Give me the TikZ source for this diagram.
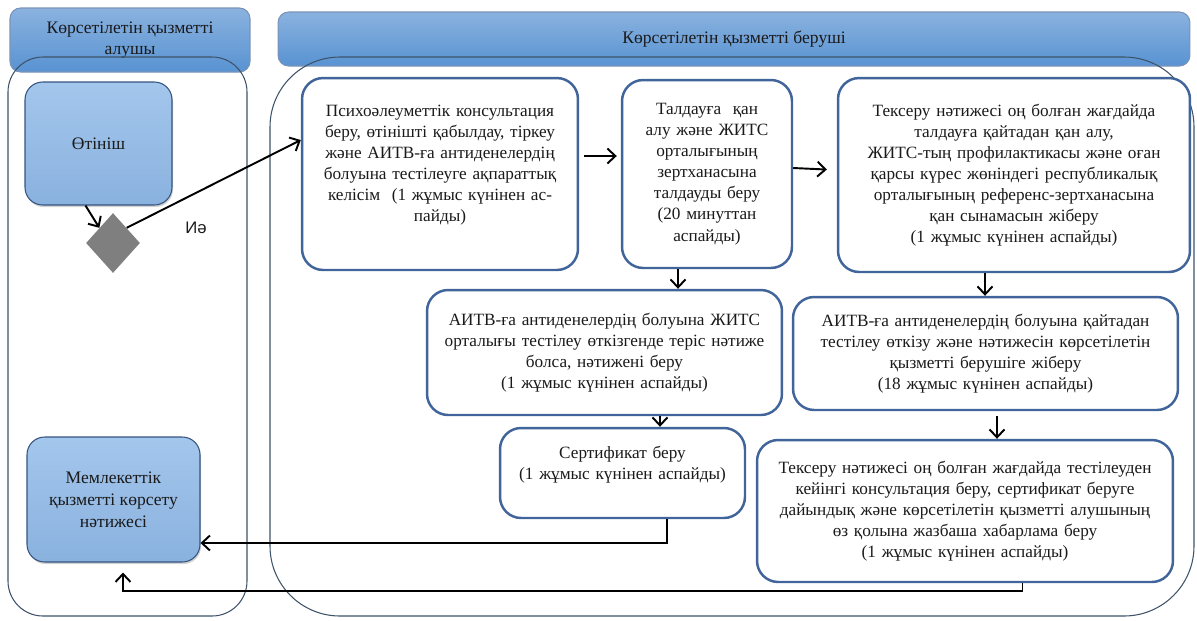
\documentclass[tikz,border=0pt]{standalone}
\usepackage{fontspec}
\setmainfont{Liberation Serif}
\newfontfamily\labelfont{Liberation Sans}
\usepackage{tikz}
\usetikzlibrary{positioning,arrows.meta,calc,shapes.geometric,shadows}
\definecolor{navy700} {HTML}{41649A}
\definecolor{navy800} {HTML}{35547F}
\definecolor{blue600} {HTML}{4F8CCE}
\definecolor{blue500} {HTML}{5893D2}
\definecolor{blue400} {HTML}{8AB2DF}
\definecolor{blue300} {HTML}{A3C6EC}
\definecolor{slate600}{HTML}{3E5369}
\definecolor{grey500} {HTML}{7F7F7F}
\definecolor{ink}     {HTML}{1A1A1A}
\tikzset{
  box/.style  ={draw=navy700, line width=1.4pt, fill=white,
                rounded corners=12pt, align=center, inner sep=2pt,
                text=ink, font=\fontsize{9.8}{12}\selectfont},
  boxb/.style ={draw=navy800, line width=0.6pt, top color=blue300,
                middle color=blue500, bottom color=blue400,
                rounded corners=10pt, align=center, inner sep=2pt, text=ink,
                font=\fontsize{10}{12.5}\selectfont,
                drop shadow={shadow xshift=0.6pt, shadow yshift=-1.2pt,
                             opacity=0.35}},
  hdr/.style  ={draw=navy700!70, line width=0.6pt, top color=blue400,
                middle color=blue600, bottom color=blue500,
                rounded corners=6pt, align=center, inner sep=2pt,
                text=ink, font=\fontsize{10}{12}\selectfont},
  lane/.style ={draw=slate600, line width=0.6pt},
  dec/.style  ={shape=diamond, fill=grey500, draw=none, inner sep=0pt,
                minimum width=1.08cm, minimum height=1.2cm},
  ar/.style   ={-{Straight Barb[length=1.6mm,width=3mm]}, draw=black,
                line width=1.1pt},
  tag/.style  ={font=\labelfont\fontsize{9.5}{11}\selectfont, text=ink,
                inner sep=1pt}
}
\begin{document}
\begin{tikzpicture}[x=0.02cm, y=-0.02cm]
\useasboundingbox (0,0) rectangle (1197,620);
\node[hdr, minimum width=4.8cm, minimum height=1.28cm] (hdrL) at (130,40)
  {Көрсетілетін қызметті\\алушы};
\node[hdr, minimum width=18.24cm, minimum height=1.08cm] (hdrR) at (734,39)
  {Көрсетілетін қызметті беруші};
\draw[lane, rounded corners=0.7cm] (8,57) rectangle (247,616);
\draw[lane, rounded corners=1.4cm] (270,57) rectangle (1194,616);

\node[boxb, minimum width=2.94cm, minimum height=2.46cm] (otin) at (98.5,143.5)
  {Өтініш};
\node[dec] (dec) at (113,243) {};
\node[tag] (yes) at (196,228) {Иә};
\node[boxb, minimum width=3.46cm, minimum height=2.5cm] (res) at (113.5,499.5)
  {Мемлекеттік\\қызметті көрсету\\нәтижесі};

\node[box, minimum width=5.52cm, minimum height=3.84cm, text width=5.2cm]
  (psy) at (440,174)
  {Психоәлеуметтік консультация\\беру, өтінішті қабылдау, тіркеу\\
   және АИТВ-ға антиденелердің\\болуына тестілеуге ақпараттық\\
   келісім \ (1 жұмыс күнінен ас-\\пайды)\\\mbox{}};
\node[box, minimum width=3.4cm, minimum height=3.76cm, text width=3.1cm]
  (tald) at (707,174)
  {Талдауға \ қан\\алу және ЖИТС\\орталығының\\зертханасына\\
   талдауды беру\\(20 минуттан\\аспайды)};
\node[box, minimum width=7.04cm, minimum height=3.88cm, text width=6.8cm]
  (chk) at (1014,175)
  {Тексеру нәтижесі оң болған жағдайда\\талдауға қайтадан қан алу,\\
   ЖИТС-тың профилактикасы және оған\\қарсы күрес жөніндегі республикалық\\
   орталығының референс-зертханасына\\қан сынамасын жіберу\\
   (1 жұмыс күнінен аспайды)};
\node[box, minimum width=7.1cm, minimum height=2.5cm, text width=6.9cm]
  (neg) at (604.5,352.5)
  {АИТВ-ға антиденелердің болуына ЖИТС\\орталығы тестілеу өткізгенде теріс нәтиже\\
   болса, нәтижені беру\\(1 жұмыс күнінен аспайды)};
\node[box, minimum width=4.9cm, minimum height=1.8cm, text width=4.6cm]
  (cert) at (622.5,473)
  {Сертификат беру\\(1 жұмыс күнінен аспайды)\\\mbox{}};
\node[box, minimum width=7.7cm, minimum height=2.26cm, text width=7.5cm]
  (ret) at (985.5,353.5)
  {АИТВ-ға антиденелердің болуына қайтадан\\тестілеу өткізу және нәтижесін көрсетілетін\\
   қызметті берушіге жіберу\\(18 жұмыс күнінен аспайды)};
\node[box, minimum width=8.32cm, minimum height=2.84cm, text width=8.1cm]
  (note) at (965,511)
  {Тексеру нәтижесі оң болған жағдайда тестілеуден\\
   кейінгі консультация беру, сертификат беруге\\
   дайындық және көрсетілетін қызметті алушының\\
   өз қолына жазбаша хабарлама беру\\(1 жұмыс күнінен аспайды)};

\draw[ar] ([xshift=-0.26cm]otin.south) -- (dec.north west);
\draw[ar] (dec.north east) -- ([yshift=0.68cm]psy.west);
\draw[ar, shorten <=0.1cm, shorten >=0.08cm]
  ([yshift=0.36cm]psy.east) -- ([yshift=0.36cm]tald.west);
\draw[ar, shorten >=0.2cm] ([yshift=0.12cm]tald.east) -- ([yshift=0.1cm]chk.west);
\coordinate (t1) at ([xshift=-0.58cm]tald.south);
\draw[ar] (t1) -- (t1 |- neg.north);
\coordinate (t2) at ([xshift=1.11cm]neg.south);
\draw[ar] (t2) -- (t2 |- cert.north);
\coordinate (t3) at ([xshift=-0.58cm]chk.south);
\draw[ar] (t3) -- (t3 |- ret.north);
\coordinate (t4) at ([xshift=0.23cm]ret.south);
\draw[ar, shorten <=0.1cm] (t4) -- (t4 |- note.north);
\coordinate (t5) at ([xshift=0.89cm]cert.south);
\draw[ar] (t5) |- ([yshift=-0.87cm]res.east);
\coordinate (t6) at ([xshift=1.15cm]note.south);
\draw[ar] (t6) -- ++(0,-0.16cm) -| ([xshift=0.19cm,yshift=-0.2cm]res.south);
\end{tikzpicture}
\end{document}
